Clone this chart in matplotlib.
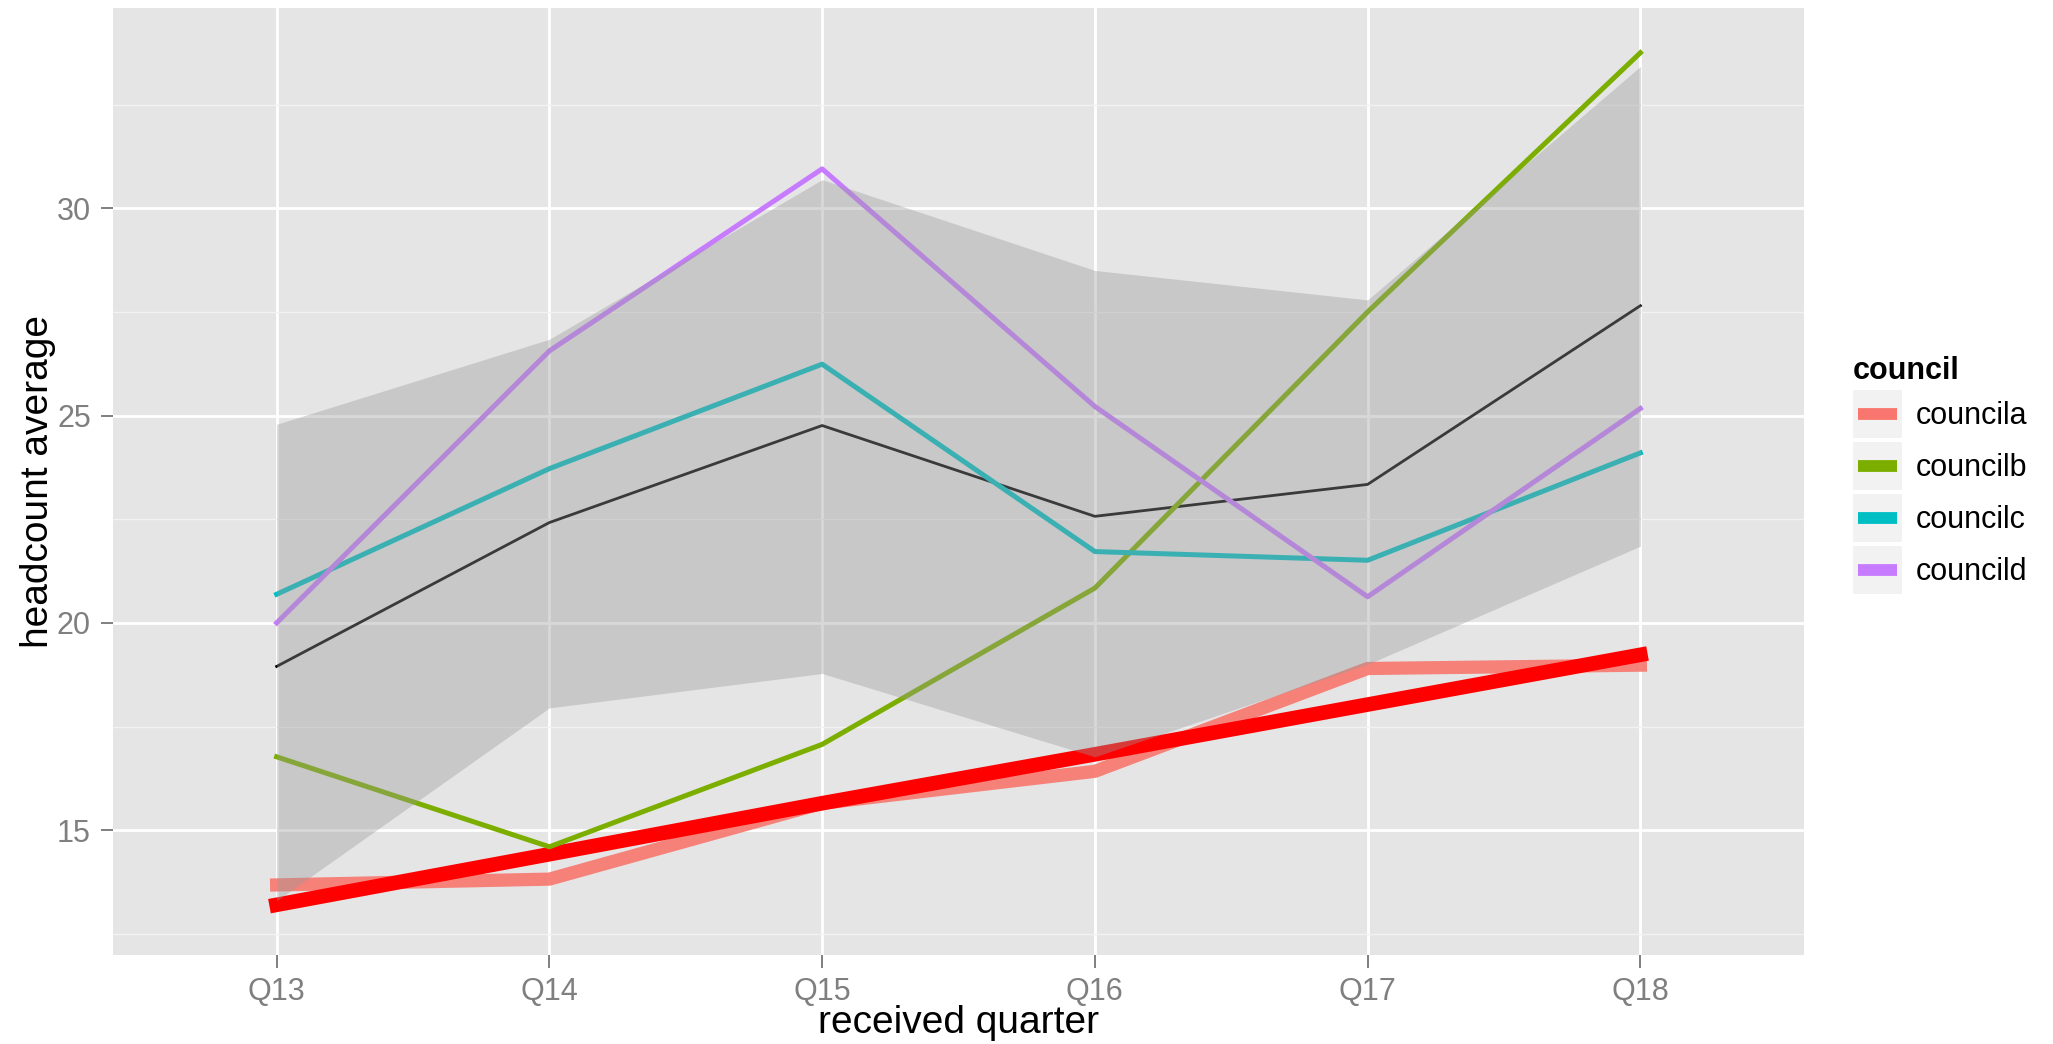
import matplotlib
matplotlib.use("Agg")
import matplotlib.pyplot as plt
from matplotlib.lines import Line2D
from matplotlib.patches import Rectangle
from matplotlib.legend_handler import HandlerBase

plt.rcParams['font.family'] = ['Liberation Sans', 'DejaVu Sans']

# data
quarters = ["Q13", "Q14", "Q15", "Q16", "Q17", "Q18"]
councila = [13.68, 13.82, 15.65, 16.42, 18.9, 18.98]
councilb = [16.77, 14.6, 17.07, 20.84, 27.5, 33.75]
councilc = [20.69, 23.72, 26.24, 21.72, 21.51, 24.1]
councild = [20.0, 26.56, 30.95, 25.22, 20.63, 25.17]
mean_line = [18.95, 22.42, 24.76, 22.57, 23.34, 27.65]
ribbon_low = [13.3, 17.95, 18.78, 16.77, 19.0, 21.85]
ribbon_high = [24.79, 26.84, 30.69, 28.5, 27.79, 33.42]
trend_a = [13.2, 14.42, 15.65, 16.83, 18.03, 19.23]

council_names = ["councila", "councilb", "councilc", "councild"]
council_cols = ["#F8766D", "#7CAE00", "#00BFC4", "#C77CFF"]


# ggplot style legend key: grey square with the line centred in it
class KeyHandler(HandlerBase):
    def create_artists(self, legend, orig_handle, xdescent, ydescent, width, height, fontsize, trans):
        bg = Rectangle((-xdescent, -ydescent), width, height, facecolor="#F2F2F2",
                       edgecolor="none", transform=trans)
        yc = -ydescent + height / 2
        ln = Line2D([-xdescent + 0.1 * width, -xdescent + 0.9 * width], [yc, yc],
                    color=orig_handle.get_color(), linewidth=8.5,
                    solid_capstyle="butt", transform=trans)
        return [bg, ln]


fig = plt.figure(figsize=(20.53, 10.44), dpi=100)
ax = fig.add_axes([113/2053, 1 - 955/1044, (1804-113)/2053, (955-8)/1044])
ax.set_facecolor("#E5E5E5")
for s in ax.spines.values():
    s.set_visible(False)

x = list(range(len(quarters)))

# council lines first, the grey band goes over them
ax.plot(x, mean_line, color="black", linewidth=2.0, zorder=3)
ax.plot(x, councila, color=council_cols[0], linewidth=9.5, alpha=0.9, zorder=4)
ax.plot(x, trend_a, color="#FF0000", linewidth=10.5, zorder=5)
ax.plot(x, councilb, color=council_cols[1], linewidth=3.6, zorder=6)
ax.plot(x, councilc, color=council_cols[2], linewidth=3.6, zorder=6)
ax.plot(x, councild, color=council_cols[3], linewidth=3.6, zorder=6)
ax.fill_between(x, ribbon_low, ribbon_high, color="#999999", alpha=0.38, linewidth=0, zorder=7)

# axes, grid
ax.set_xlim(-0.6, 5.6)
ax.set_ylim(11.99, 34.83)
ax.set_xticks(x)
ax.set_xticklabels(quarters)
ax.set_yticks([15, 20, 25, 30])
ax.set_yticks([12.5, 17.5, 22.5, 27.5, 32.5], minor=True)
ax.grid(True, which="major", color="white", linewidth=2.0, zorder=1)
ax.grid(True, which="minor", axis="y", color="#F2F2F2", linewidth=1.0, zorder=1)
ax.set_axisbelow(True)
ax.tick_params(axis="both", which="major", colors="#7F7F7F", labelsize=22,
               length=9, width=1.4, pad=7)
ax.tick_params(axis="y", which="minor", length=0)

ax.set_xlabel("received quarter", fontsize=28, va="top")
ax.xaxis.set_label_coords(0.5, -0.053)
ax.set_ylabel("headcount average", fontsize=28)
ax.yaxis.set_label_coords(-0.034, 0.5)

# legend
handles = [Line2D([], [], color=c) for c in council_cols]
leg = ax.legend(handles, council_names, handler_map={Line2D: KeyHandler()},
                title="council", title_fontproperties={"weight": "bold", "size": 22},
                fontsize=22, frameon=False, loc="upper left",
                bbox_to_anchor=(1853/2053, 1 - 356/1044), bbox_transform=fig.transFigure,
                borderpad=0, borderaxespad=0, handlelength=1.6, handleheight=2.04,
                labelspacing=0.13, handletextpad=0.45, alignment="left")

fig.savefig("out.png", dpi=100)
